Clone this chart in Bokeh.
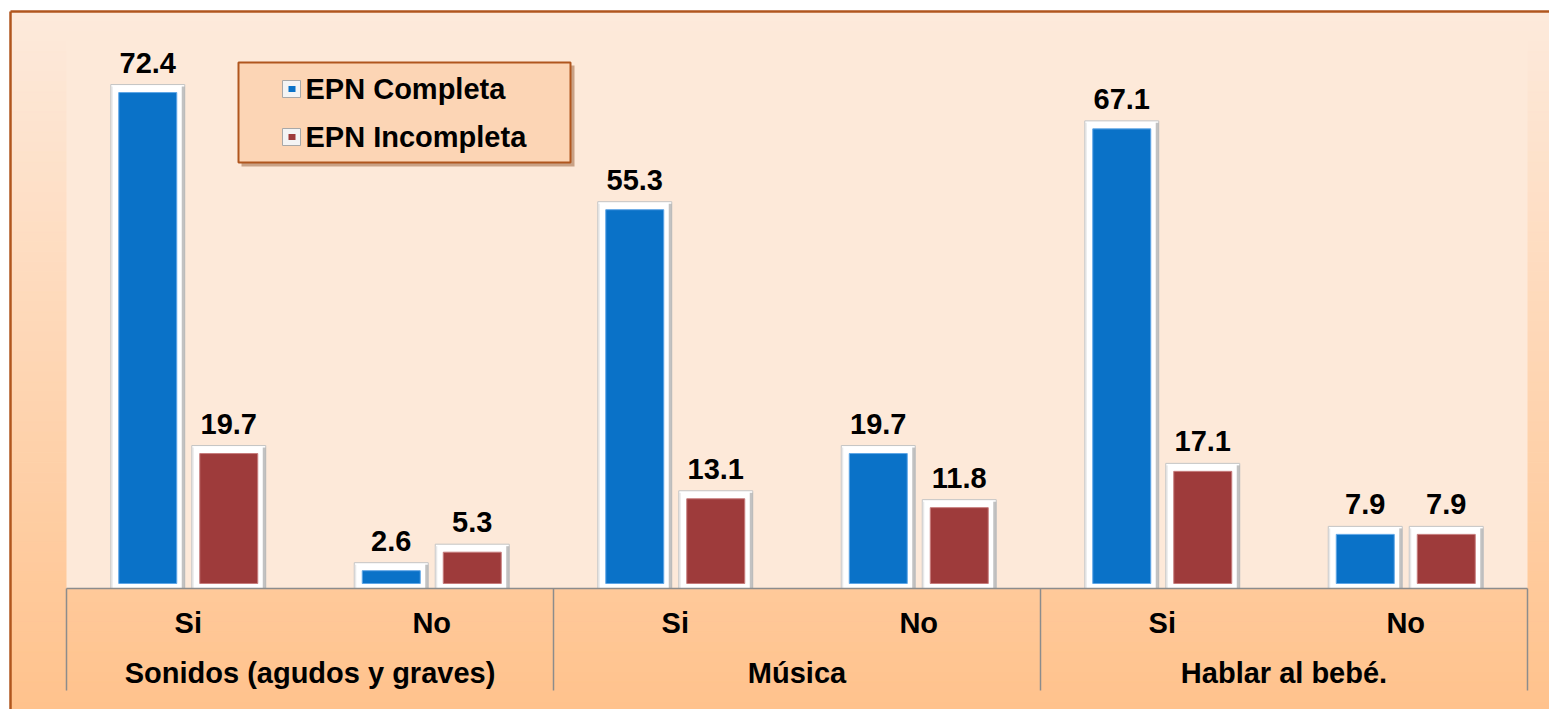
import numpy as np
from bokeh.plotting import figure
from bokeh.models import ColumnDataSource, Range1d
from bokeh.core.properties import value
from bokeh.embed import file_html
from bokeh.resources import INLINE

# ---------------- data ----------------
groups = ["Sonidos (agudos y graves)", "Música", "Hablar al bebé."]
answers = ["Si", "No"]
series = ["EPN Completa", "EPN Incompleta"]
completa = [72.4, 2.6, 55.3, 19.7, 67.1, 7.9]
incompleta = [19.7, 5.3, 13.1, 11.8, 17.1, 7.9]
colors = ["#0A72C8", "#9E3B3B"]
edge_colors = ["#5FA6E6", "#C77C7C"]

# ---------------- layout helpers ----------------
W, H = 1549, 709
PXX = 243.5          # pixels per sub-category
PXY = 6.85           # pixels per percent
ORIG_X, ORIG_Y = 66, 588   # page pixel of the data origin
PAGE = 0


def X(px):
    return (px - ORIG_X) / PXX


def Y(py):
    return (ORIG_Y - py) / PXY


def dx(px):
    return px / PXX


def dy(py):
    return py / PXY


FONT = value("Liberation Sans")
FS = "29px"

p = figure(width=W, height=H,
           x_range=Range1d(X(PAGE), X(PAGE + W)),
           y_range=Range1d(Y(PAGE + H), Y(PAGE)),
           x_axis_type=None, y_axis_type=None,
           output_backend="svg", toolbar_location=None,
           min_border=0, min_border_left=0, min_border_right=0,
           min_border_top=0, min_border_bottom=0)
p.outline_line_color = None
p.background_fill_color = "white"
p.border_fill_color = "white"

# ---------------- chart area gradient ----------------
N = 70
ys = np.linspace(11, 712, N + 1)
top_c = np.array([0xFD, 0xEA, 0xDC])
bot_c = np.array([0xFF, 0xC2, 0x8C])
cols = ['#%02x%02x%02x' % tuple(int(round(c)) for c in top_c + (bot_c - top_c) * t)
        for t in (np.arange(N) + 0.5) / N]
p.quad(left=X(10), right=X(1570), top=[Y(a) for a in ys[:-1]],
       bottom=[Y(b) for b in ys[1:]], fill_color=cols, line_color=cols, line_width=1)

# chart border (top and left visible)
p.segment(x0=[X(10), X(10)], y0=[Y(11), Y(11)], x1=[X(1570), X(10)], y1=[Y(11), Y(712)],
          line_color="#B0561E", line_width=2.5)

# ---------------- plot area ----------------
ncat = len(groups) * len(answers)
p.quad(left=0, right=ncat, bottom=0, top=Y(33), fill_color="#FDE9D9", line_color=None)

# ---------------- bars ----------------
centers = np.arange(ncat) + 0.5
offsets = [-dx(40.5), dx(40.5)]
for vals, off, col, ecol in zip([completa, incompleta], offsets, colors, edge_colors):
    xc = centers + off
    v = np.array(vals)
    # white bevel frame
    p.quad(left=xc - dx(37), right=xc + dx(37), bottom=0, top=v + dy(8),
           fill_color="white", line_color="#C4C4C4", line_width=1)
    p.quad(left=xc + dx(34), right=xc + dx(37), bottom=0, top=v + dy(6),
           fill_color="#A8A8A8", fill_alpha=0.7, line_color=None)
    p.quad(left=xc - dx(37), right=xc - dx(35), bottom=0, top=v + dy(6),
           fill_color="#D8D8D8", fill_alpha=0.6, line_color=None)
    # coloured bar
    p.quad(left=xc - dx(29), right=xc + dx(29), bottom=dy(5), top=v,
           fill_color=col, line_color=ecol, line_width=1)
    src = ColumnDataSource(dict(x=xc, y=v + dy(30), t=[f"{a:.1f}" for a in vals]))
    p.text(x="x", y="y", text="t", source=src, text_align="center",
           text_baseline="alphabetic", text_font=FONT, text_font_style="bold",
           text_font_size=FS, text_color="black")

# ---------------- category axis ----------------
p.segment(x0=[0], y0=[0], x1=[ncat], y1=[0], line_color="#8C8C8C", line_width=1.5)
sep = list(range(0, ncat + 1, len(answers)))
p.segment(x0=sep, y0=[0] * len(sep), x1=sep, y1=[Y(690)] * len(sep),
          line_color="#8C8C8C", line_width=1.5)
p.text(x=list(centers), y=[Y(622)] * ncat, text=answers * len(groups),
       text_align="center", text_baseline="alphabetic", text_font=FONT,
       text_font_style="bold", text_font_size=FS, text_color="black")
gcent = [len(answers) * (i + 0.5) for i in range(len(groups))]
p.text(x=gcent, y=[Y(672)] * len(groups), text=groups,
       text_align="center", text_baseline="alphabetic", text_font=FONT,
       text_font_style="bold", text_font_size=FS, text_color="black")

# ---------------- legend ----------------
p.quad(left=X(241), right=X(574), top=Y(65), bottom=Y(166),
       fill_color="#8A4A20", fill_alpha=0.45, line_color=None)
p.quad(left=X(238), right=X(570), top=Y(62), bottom=Y(162),
       fill_color="#FCD5B5", line_color="#B0561E", line_width=2)
rows = [88, 136]
for name, col, ry in zip(series, colors, rows):
    p.quad(left=X(282), right=X(300), top=Y(ry - 8), bottom=Y(ry + 9),
           fill_color="#F4F4F4", line_color="#A8A8A8", line_width=1)
    p.quad(left=X(288), right=X(295), top=Y(ry - 2.5), bottom=Y(ry + 3.5),
           fill_color=col, line_color=None)
    p.text(x=[X(305)], y=[Y(ry)], text=[name], text_align="left",
           text_baseline="middle", text_font=FONT, text_font_style="bold",
           text_font_size=FS, text_color="black")

open("out.html", "w").write(file_html(p, INLINE))
